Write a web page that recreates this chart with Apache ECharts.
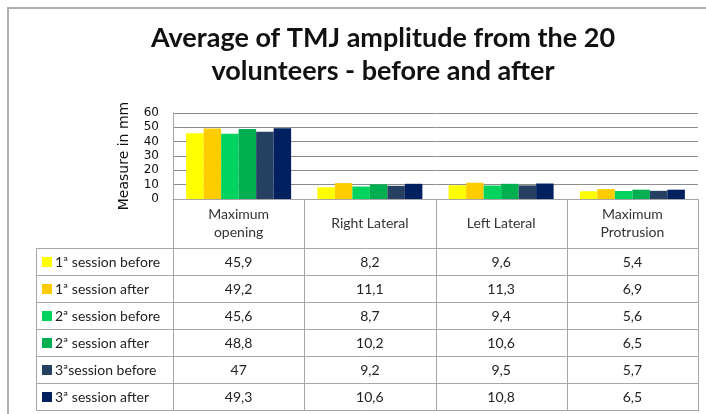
<!DOCTYPE html>
<html>
<head>
<meta charset="utf-8">
<script src="https://cdn.jsdelivr.net/npm/echarts@6/dist/echarts.min.js"></script>
<style>
  html, body { margin: 0; padding: 0; background: #fff; }
  #chart { width: 706px; height: 414px; }
</style>
</head>
<body>
<div id="chart"></div>
<script>
const categories = ['Maximum\nopening', 'Right Lateral', 'Left Lateral', 'Maximum\nProtrusion'];
const seriesNames = [
  '1ª session before',
  '1ª session after',
  '2ª session before',
  '2ª session after',
  '3ªsession before',
  '3ª session after'
];
const s1Before = [45.9, 8.2, 9.6, 5.4];
const s1After = [49.2, 11.1, 11.3, 6.9];
const s2Before = [45.6, 8.7, 9.4, 5.6];
const s2After = [48.8, 10.2, 10.6, 6.5];
const s3Before = [47, 9.2, 9.5, 5.7];
const s3After = [49.3, 10.6, 10.8, 6.5];
const yTicks = [0, 10, 20, 30, 40, 50, 60];

const seriesData = [s1Before, s1After, s2Before, s2After, s3Before, s3After];
const colors = ['#ffff00', '#ffcc00', '#00d45e', '#00b050', '#254061', '#002060'];

// layout
const plotLeft = 173, plotTop = 113, plotW = 525, plotH = 86;
const tableLeft = 36, headerBottom = 248, rowH = 27;
const lineColor = '#a6a6a6';
const fontFam = 'Lato, "Open Sans", sans-serif';

const chart = echarts.init(document.getElementById('chart'));

const graphics = [];
const plotBottom = plotTop + plotH;
const tableBottom = headerBottom + rowH * seriesNames.length;
const colW = plotW / categories.length;

// outer frame
graphics.push({
  type: 'rect', shape: { x: 8, y: 8, width: 740, height: 440 },
  style: { fill: 'none', stroke: '#b0b0b0', lineWidth: 2 }, silent: true
});

// table lines
const line = (x1, y1, x2, y2) => graphics.push({
  type: 'line', shape: { x1, y1, x2, y2 },
  style: { stroke: lineColor, lineWidth: 1 }, silent: true
});
for (let i = 0; i <= categories.length; i++) {
  const x = Math.round(plotLeft + i * colW) + 0.5;
  line(x, plotBottom, x, tableBottom);
}
line(tableLeft + 0.5, headerBottom, tableLeft + 0.5, tableBottom);
for (let r = 0; r <= seriesNames.length; r++) {
  const y = headerBottom + r * rowH + 0.5;
  line(tableLeft, y, plotLeft + plotW + 1, y);
}

// header texts
categories.forEach((c, i) => {
  graphics.push({
    type: 'text', silent: true,
    x: plotLeft + (i + 0.5) * colW, y: (plotBottom + headerBottom) / 2,
    style: {
      text: c, fill: '#333', font: '14px ' + fontFam, lineHeight: 18,
      align: 'center', verticalAlign: 'middle'
    }
  });
});

// value texts
seriesData.forEach((vals, r) => {
  vals.forEach((v, i) => {
    graphics.push({
      type: 'text', silent: true,
      x: plotLeft + (i + 0.5) * colW, y: headerBottom + (r + 0.5) * rowH + 1,
      style: {
        text: String(v).replace('.', ','), fill: '#222', font: '14px ' + fontFam,
        align: 'center', verticalAlign: 'middle'
      }
    });
  });
});

const option = {
  animation: false,
  backgroundColor: '#fff',
  title: {
    text: 'Average of TMJ amplitude from the 20\nvolunteers - before and after',
    left: 378, top: 17, textAlign: 'center',
    textStyle: {
      fontFamily: fontFam, fontSize: 27, fontWeight: 'bold',
      color: '#111', lineHeight: 33
    }
  },
  legend: {
    orient: 'vertical', left: 42, top: headerBottom + 7,
    padding: 0, itemGap: rowH - 14, itemWidth: 10, itemHeight: 10,
    icon: 'rect', selectedMode: false,
    textStyle: { fontFamily: fontFam, fontSize: 14, color: '#222', lineHeight: 14, padding: [0, 0, 0, -2] },
    data: seriesNames
  },
  grid: { left: plotLeft, top: plotTop, width: plotW, height: plotH, containLabel: false },
  xAxis: {
    type: 'category', data: categories,
    axisLine: { lineStyle: { color: lineColor } },
    axisTick: { show: false }, axisLabel: { show: false }
  },
  yAxis: {
    type: 'value', min: yTicks[0], max: yTicks[yTicks.length - 1], interval: 10,
    name: 'Measure in mm', nameLocation: 'middle', nameGap: 42,
    nameTextStyle: { fontFamily: 'DejaVu Sans', fontSize: 14, color: '#111' },
    axisLine: { show: true, lineStyle: { color: lineColor } },
    axisTick: { show: false },
    axisLabel: { fontFamily: 'DejaVu Sans', fontSize: 12, color: '#111', margin: 14 },
    splitLine: { lineStyle: { color: '#8c8c8c', width: 1 } }
  },
  series: seriesNames.map((name, k) => ({
    name, type: 'bar', data: seriesData[k],
    itemStyle: { color: colors[k] },
    barGap: 0, barCategoryGap: '20%'
  })),
  graphic: graphics
};

chart.setOption(option);
</script>
</body>
</html>
